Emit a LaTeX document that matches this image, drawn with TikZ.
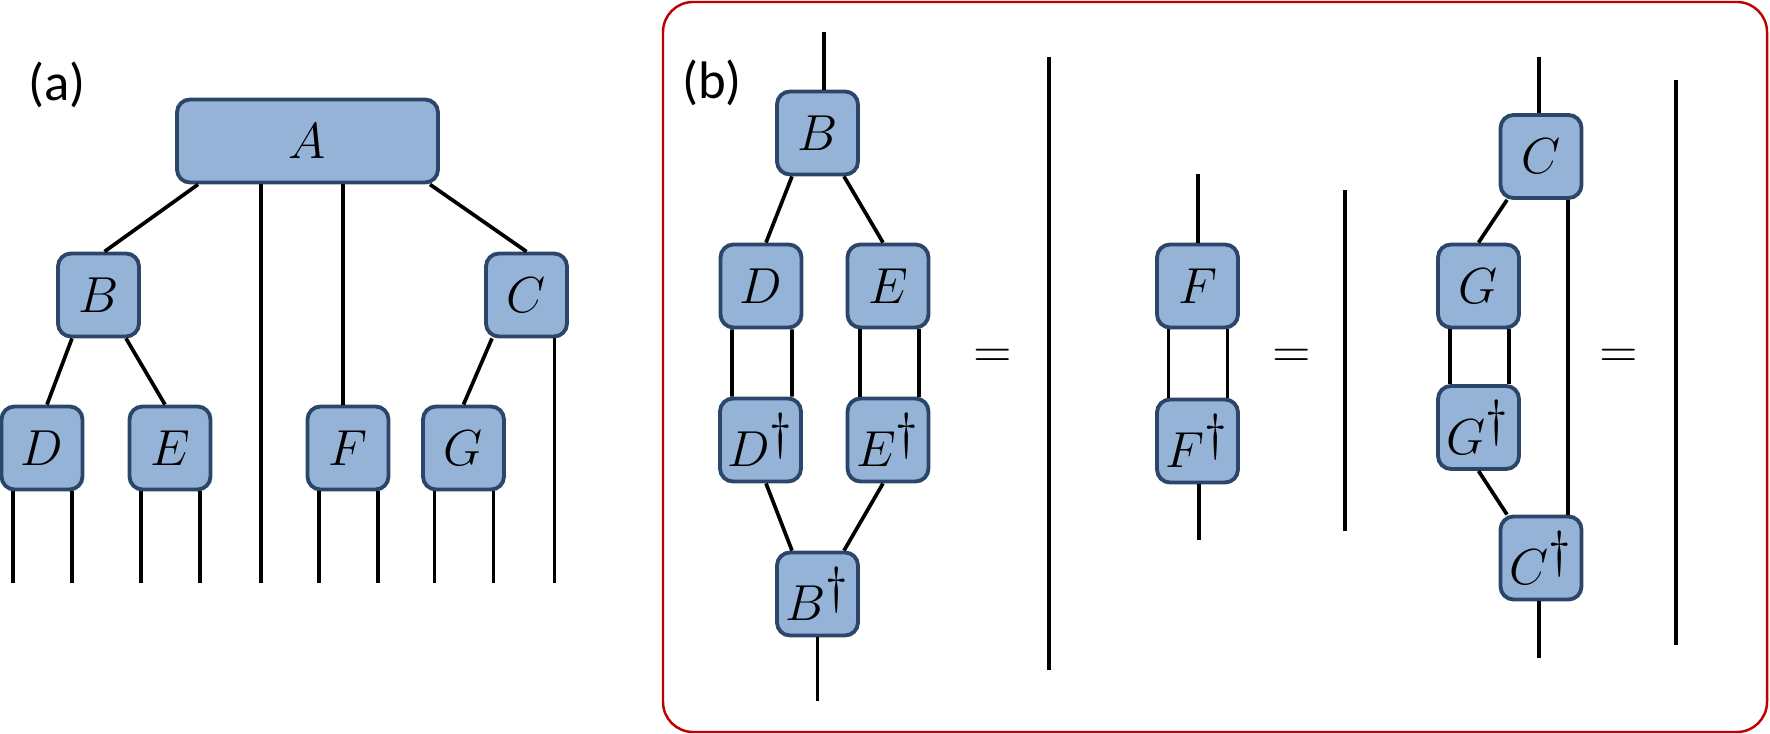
\documentclass[tikz,border=0pt]{standalone}
\usepackage{amsmath, amssymb}
\usepackage{xcolor}
\usepackage{fontspec}
\usepackage{tikz}
\newfontfamily\panelfont{Carlito}
\definecolor{tensfill}{RGB}{149,179,215}
\definecolor{tensline}{RGB}{44,70,106}
\definecolor{framered}{RGB}{192,0,0}
\newcommand{\dg}{^{\textstyle\dagger}}

\begin{document}
\begin{tikzpicture}[
        tens/.style={draw=tensline, fill=tensfill, line width=1.1pt, rounded corners=0.13cm,
            minimum width=0.81cm, minimum height=0.83cm, inner sep=0pt,
            font=\fontsize{15}{17}\selectfont},
        leg/.style={line width=1.05pt},
        lbl/.style={font=\panelfont\fontsize{15}{17}\selectfont},
        eq/.style={font=\fontsize{15}{17}\selectfont, anchor=base}]
        \useasboundingbox (0,0) rectangle (17.70,-7.34);

        % (a): the tree
        \node[lbl] (la) at (0.57,-0.85) {(a)};

        \node[tens, minimum width=2.61cm] (A) at (3.075,-1.41) {$A$};
        \node[tens] (B) at (0.985,-2.95) {$B$};
        \node[tens] (C) at (5.265,-2.95) {$C$};
        \node[tens] (D) at (0.42,-4.48) {$D$};
        \node[tens] (E) at (1.70,-4.48) {$E$};
        \node[tens] (F) at (3.48,-4.48) {$F$};
        \node[tens] (G) at (4.635,-4.48) {$G$};
        \coordinate (abot) at (0,-5.83);

        \draw[leg] ([xshift=0.23cm]A.south west) -- ([xshift=0.06cm]B.north);
        \draw[leg] ([xshift=-0.10cm]A.south east) -- (C.north);
        \draw[leg] ([xshift=-0.465cm]A.south) -- ([xshift=-0.465cm]A.south |- abot);
        \draw[leg] ([xshift=-0.05cm]F.north) -- ([xshift=-0.05cm]F.north |- A.south);
        \draw[leg] ([xshift=-0.265cm]B.south) -- ([xshift=0.05cm]D.north);
        \draw[leg] ([xshift=0.275cm]B.south) -- ([xshift=-0.05cm]E.north);
        \draw[leg] ([xshift=-0.345cm]C.south) -- (G.north);
        \draw[leg] ([xshift=0.28cm]C.south) -- ([xshift=0.28cm]C.south |- abot);

        \draw[leg] ([xshift=-0.29cm]D.south) -- ([xshift=-0.29cm]D.south |- abot);
        \draw[leg] ([xshift=0.30cm]D.south) -- ([xshift=0.30cm]D.south |- abot);
        \draw[leg] ([xshift=-0.29cm]E.south) -- ([xshift=-0.29cm]E.south |- abot);
        \draw[leg] ([xshift=0.30cm]E.south) -- ([xshift=0.30cm]E.south |- abot);
        \draw[leg] ([xshift=-0.29cm]F.south) -- ([xshift=-0.29cm]F.south |- abot);
        \draw[leg] ([xshift=0.30cm]F.south) -- ([xshift=0.30cm]F.south |- abot);
        \draw[leg] ([xshift=-0.29cm]G.south) -- ([xshift=-0.29cm]G.south |- abot);
        \draw[leg] ([xshift=0.30cm]G.south) -- ([xshift=0.30cm]G.south |- abot);

        % (b): the three contractions
        \draw[framered, line width=0.7pt, rounded corners=0.3cm] (6.63,-0.02) rectangle (17.67,-7.32);
        \node[lbl] (lb) at (7.12,-0.83) {(b)};

        \node[tens] (Bb) at (8.175,-1.33) {$B$};
        \node[tens] (Db) at (7.61,-2.86) {$D$};
        \node[tens] (Eb) at (8.88,-2.86) {$E$};
        \node[tens] (Dd) at (7.605,-4.40) {$D\dg$};
        \node[tens] (Ed) at (8.88,-4.40) {$E\dg$};
        \node[tens] (Bd) at (8.175,-5.94) {$B\dg$};
        \coordinate (bin) at (8.24,-0.32);
        \coordinate (bout) at (8.17,-7.01);

        \draw[leg] (bin) -- (bin |- Bb.north);
        \draw[leg] ([xshift=-0.255cm]Bb.south) -- ([xshift=0.05cm]Db.north);
        \draw[leg] ([xshift=0.265cm]Bb.south) -- ([xshift=-0.05cm]Eb.north);
        \draw[leg] ([xshift=-0.29cm]Db.south) -- ([xshift=-0.285cm]Dd.north);
        \draw[leg] ([xshift=0.31cm]Db.south) -- ([xshift=0.315cm]Dd.north);
        \draw[leg] ([xshift=-0.28cm]Eb.south) -- ([xshift=-0.28cm]Ed.north);
        \draw[leg] ([xshift=0.31cm]Eb.south) -- ([xshift=0.31cm]Ed.north);
        \draw[leg] ([xshift=0.055cm]Dd.south) -- ([xshift=-0.255cm]Bd.north);
        \draw[leg] ([xshift=-0.05cm]Ed.south) -- ([xshift=0.265cm]Bd.north);
        \draw[leg] (Bd.south) -- (Bd.south |- bout);

        \node[eq] (eq1) at (9.93,-3.68) {$=$};
        \coordinate (id1a) at (10.49,-0.57);
        \coordinate (id1b) at (10.49,-6.70);
        \draw[leg] (id1a) -- (id1b);

        \node[tens] (Fb) at (11.975,-2.86) {$F$};
        \node[tens] (Fd) at (11.975,-4.41) {$F\dg$};
        \coordinate (fin) at (11.98,-1.74);
        \coordinate (fout) at (11.99,-5.40);

        \draw[leg] (fin) -- (fin |- Fb.north);
        \draw[leg] ([xshift=-0.29cm]Fb.south) -- ([xshift=-0.29cm]Fd.north);
        \draw[leg] ([xshift=0.30cm]Fb.south) -- ([xshift=0.30cm]Fd.north);
        \draw[leg] (fout |- Fd.south) -- (fout);

        \node[eq] (eq2) at (12.92,-3.68) {$=$};
        \coordinate (id2a) at (13.45,-1.90);
        \coordinate (id2b) at (13.45,-5.31);
        \draw[leg] (id2a) -- (id2b);

        \node[tens] (Cb) at (15.41,-1.565) {$C$};
        \node[tens] (Gb) at (14.785,-2.86) {$G$};
        \node[tens] (Gd) at (14.785,-4.275) {$G\dg$};
        \node[tens] (Cd) at (15.41,-5.58) {$C\dg$};
        \coordinate (cin) at (15.39,-0.57);
        \coordinate (cout) at (15.39,-6.58);

        \draw[leg] (cin) -- (cin |- Cb.north);
        \draw[leg] ([xshift=-0.34cm]Cb.south) -- (Gb.north);
        \draw[leg] ([xshift=-0.285cm]Gb.south) -- ([xshift=-0.285cm]Gd.north);
        \draw[leg] ([xshift=0.305cm]Gb.south) -- ([xshift=0.305cm]Gd.north);
        \draw[leg] (Gd.south) -- ([xshift=-0.34cm]Cd.north);
        \draw[leg] ([xshift=0.27cm]Cb.south) -- ([xshift=0.27cm]Cd.north);
        \draw[leg] (cout |- Cd.south) -- (cout);

        \node[eq] (eq3) at (16.19,-3.68) {$=$};
        \coordinate (id3a) at (16.76,-0.80);
        \coordinate (id3b) at (16.76,-6.45);
        \draw[leg] (id3a) -- (id3b);
\end{tikzpicture}
\end{document}
